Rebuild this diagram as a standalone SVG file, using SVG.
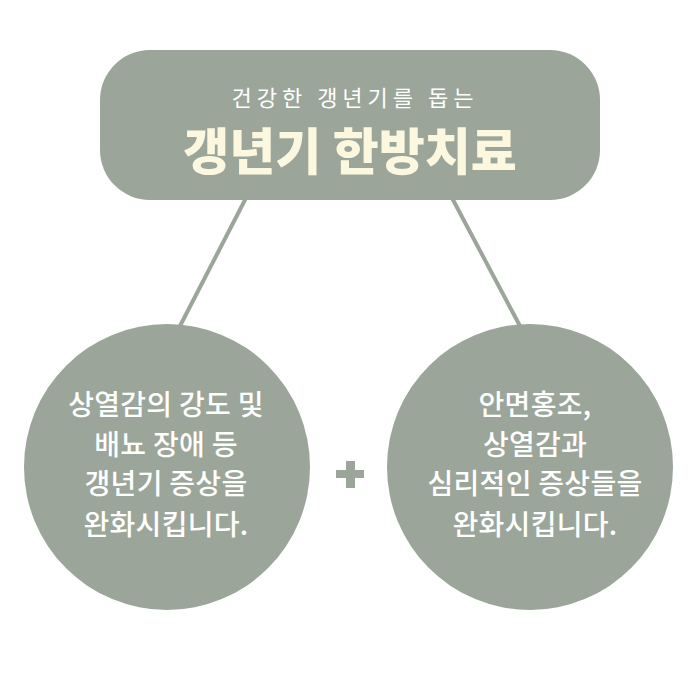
<svg xmlns="http://www.w3.org/2000/svg" width="700" height="700" viewBox="0 0 700 700">
<style>
.shape{fill:#9ba59a}
.line{stroke:#9ba59a;stroke-width:4;fill:none}
.sub{font-family:"Noto Sans CJK KR","Noto Sans",sans-serif;font-weight:400;font-size:22px;fill:#ffffff;letter-spacing:5px}
.title{font-family:"Noto Sans CJK KR","Noto Sans",sans-serif;font-weight:900;font-size:50px;fill:#fcf7df}
.body{font-family:"Noto Sans CJK KR","Noto Sans",sans-serif;font-weight:500;font-size:28px;fill:#ffffff;letter-spacing:0.3px}
</style>
<rect width="700" height="700" fill="#ffffff"/>
<g id="connectors">
<line class="line" x1="246" y1="198" x2="180" y2="326"/>
<line class="line" x1="452" y1="198" x2="520" y2="326"/>
</g>
<g id="header">
<rect class="shape" x="100" y="50" width="500" height="150" rx="50"/>
<text class="sub" x="355" y="106" text-anchor="middle">건강한 갱년기를 돕는</text>
<text class="title" x="350" y="170" text-anchor="middle">갱년기 한방치료</text>
</g>
<g id="left">
<circle class="shape" cx="167" cy="467" r="143"/>
<text class="body" text-anchor="middle"><tspan x="166" y="415">상열감의 강도 및</tspan><tspan x="166" y="455">배뇨 장애 등</tspan><tspan x="166" y="494">갱년기 증상을</tspan><tspan x="166" y="535">완화시킵니다.</tspan></text>
</g>
<g id="plus">
<rect class="shape" x="336" y="470" width="28" height="8"/>
<rect class="shape" x="346" y="461" width="9" height="27"/>
</g>
<g id="right">
<circle class="shape" cx="530" cy="467" r="143"/>
<text class="body" text-anchor="middle"><tspan x="535" y="415">안면홍조,</tspan><tspan x="535" y="455">상열감과</tspan><tspan x="535" y="494">심리적인 증상들을</tspan><tspan x="535" y="535">완화시킵니다.</tspan></text>
</g>
</svg>
